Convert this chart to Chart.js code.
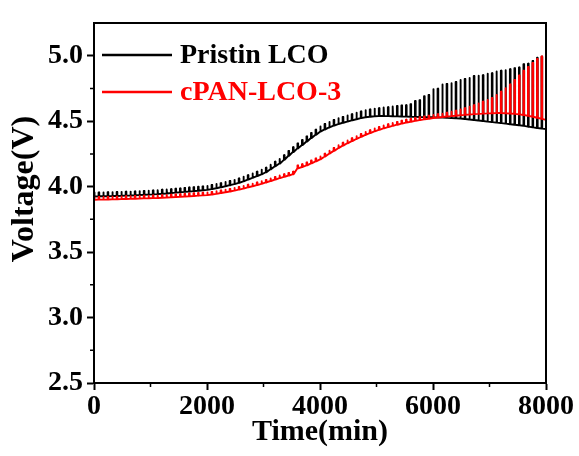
<!DOCTYPE html>
<html><head><meta charset="utf-8">
<script src="https://cdn.jsdelivr.net/npm/chart.js@4.4.0/dist/chart.umd.min.js"></script>
<style>html,body{margin:0;padding:0;background:#fff}canvas{display:block}</style>
</head><body>
<canvas id="c" width="579" height="456"></canvas>
<script>
const seriesNames = ["Pristin LCO", "cPAN-LCO-3"];
const seriesColors = ["#000000", "#ff0000"];
const xTitle = "Time(min)";
const yTitle = "Voltage(V)";
const xTicks = [0, 2000, 4000, 6000, 8000];
const xMinorTicks = [1000, 3000, 5000, 7000];
const yTicks = [2.5, 3.0, 3.5, 4.0, 4.5, 5.0];
const yMinorTicks = [2.75, 3.25, 3.75, 4.25, 4.75];

// start time of each current pulse (min)
const pulseTimes = [0,80,160,240,320,400,480,560,640,720,800,880,960,1040,1120,1200,1280,1360,1440,1520,1600,1680,1760,1840,1920,2000,2080,2160,2240,2320,2400,2480,2560,2640,2720,2800,2880,2960,3040,3120,3200,3280,3360,3440,3520,3600,3680,3760,3840,3920,4000,4080,4160,4240,4320,4400,4480,4560,4640,4720,4800,4880,4960,5040,5120,5200,5280,5360,5440,5520,5600,5680,5760,5840,5920,6000,6080,6160,6240,6320,6400,6480,6560,6640,6720,6800,6880,6960,7040,7120,7200,7280,7360,7440,7520,7600,7680,7760,7840,7920];
const endTime = 8000;

// Pristin LCO: relaxed (low) and pulse peak (high) voltages
const pristinLow = [3.925,3.926,3.926,3.927,3.928,3.929,3.930,3.931,3.932,3.933,3.936,3.938,3.939,3.941,3.943,3.946,3.948,3.951,3.954,3.957,3.960,3.963,3.966,3.969,3.972,3.975,3.981,3.988,3.995,4.003,4.011,4.019,4.029,4.041,4.054,4.067,4.081,4.094,4.110,4.132,4.155,4.176,4.205,4.236,4.265,4.292,4.318,4.345,4.372,4.396,4.420,4.437,4.452,4.466,4.478,4.488,4.497,4.506,4.515,4.523,4.530,4.534,4.538,4.540,4.540,4.539,4.538,4.537,4.536,4.535,4.534,4.533,4.532,4.531,4.530,4.530,4.528,4.527,4.525,4.523,4.522,4.520,4.517,4.513,4.509,4.505,4.501,4.497,4.493,4.489,4.485,4.481,4.477,4.473,4.469,4.464,4.458,4.453,4.448,4.443];
const pristinHigh = [3.955,3.956,3.956,3.957,3.958,3.959,3.960,3.961,3.962,3.963,3.966,3.968,3.969,3.971,3.973,3.976,3.978,3.981,3.984,3.987,3.990,3.993,3.996,3.999,4.002,4.005,4.013,4.020,4.027,4.036,4.044,4.052,4.062,4.075,4.088,4.101,4.115,4.129,4.145,4.167,4.190,4.212,4.241,4.273,4.302,4.330,4.356,4.384,4.411,4.435,4.460,4.478,4.494,4.509,4.522,4.533,4.543,4.553,4.564,4.574,4.584,4.590,4.596,4.600,4.604,4.607,4.612,4.616,4.620,4.622,4.630,4.655,4.660,4.690,4.700,4.745,4.748,4.780,4.785,4.790,4.800,4.815,4.822,4.830,4.845,4.848,4.852,4.862,4.866,4.880,4.886,4.890,4.898,4.905,4.910,4.935,4.940,4.960,4.985,4.992];
const pristinEnd = 4.44;

// cPAN-LCO-3: relaxed (low) and pulse peak (high) voltages
const cpanLow = [3.900,3.901,3.901,3.902,3.903,3.904,3.905,3.906,3.907,3.908,3.909,3.910,3.911,3.912,3.913,3.915,3.917,3.919,3.921,3.923,3.925,3.927,3.929,3.931,3.933,3.935,3.940,3.945,3.951,3.957,3.963,3.970,3.977,3.985,3.994,4.003,4.012,4.021,4.032,4.043,4.054,4.065,4.075,4.085,4.095,4.140,4.150,4.163,4.178,4.193,4.208,4.230,4.252,4.273,4.294,4.313,4.331,4.348,4.364,4.380,4.395,4.409,4.422,4.434,4.445,4.455,4.464,4.473,4.481,4.489,4.496,4.502,4.508,4.514,4.519,4.524,4.528,4.532,4.536,4.539,4.542,4.545,4.548,4.551,4.554,4.556,4.558,4.560,4.561,4.562,4.562,4.561,4.559,4.556,4.552,4.547,4.541,4.534,4.526,4.518];
const cpanHigh = [3.920,3.921,3.921,3.922,3.923,3.924,3.925,3.926,3.927,3.928,3.929,3.930,3.931,3.932,3.933,3.935,3.937,3.939,3.941,3.943,3.945,3.947,3.949,3.951,3.953,3.955,3.960,3.965,3.971,3.977,3.983,3.990,3.997,4.005,4.014,4.023,4.032,4.041,4.052,4.063,4.074,4.085,4.095,4.105,4.115,4.162,4.172,4.185,4.200,4.215,4.230,4.252,4.274,4.295,4.316,4.335,4.353,4.370,4.386,4.402,4.417,4.431,4.444,4.456,4.467,4.477,4.486,4.495,4.503,4.511,4.518,4.524,4.530,4.536,4.541,4.548,4.553,4.558,4.565,4.572,4.580,4.590,4.600,4.610,4.622,4.635,4.648,4.662,4.678,4.700,4.725,4.752,4.780,4.815,4.850,4.885,4.915,4.945,4.975,4.995];
const cpanEnd = 4.51;

// each pulse: jump up, short plateau at peak, drop back to relaxed value
function buildTrace(low, high, endV) {
  const pts = [];
  for (let i = 0; i < pulseTimes.length; i++) {
    const t = pulseTimes[i];
    pts.push({x: t, y: low[i]});
    pts.push({x: t + 1, y: high[i]});
    pts.push({x: t + 12, y: high[i]});
    pts.push({x: t + 13, y: low[i]});
  }
  pts.push({x: endTime, y: endV});
  return pts;
}

const FONT = "'Liberation Serif', 'Times New Roman', serif";

const framePlugin = {
  id: 'frame',
  afterDatasetsDraw(chart) {
    const {ctx, chartArea: a} = chart;
    ctx.save();
    const legendRows = [55, 92];
    chart.data.datasets.forEach((ds, i) => {
      const y = legendRows[i];
      ctx.strokeStyle = ds.borderColor;
      ctx.lineWidth = 2.5;
      ctx.beginPath();
      ctx.moveTo(a.left + 8, y);
      ctx.lineTo(a.left + 78, y);
      ctx.stroke();
      ctx.fillStyle = ds.borderColor;
      ctx.font = "bold 28px " + FONT;
      ctx.textBaseline = 'middle';
      ctx.textAlign = 'left';
      ctx.fillText(ds.label, a.left + 86, y + 1);
    });
    ctx.restore();
  },
  afterDraw(chart) {
    const {ctx, chartArea: a, scales} = chart;
    ctx.save();
    ctx.strokeStyle = '#000';
    ctx.lineWidth = 2;
    ctx.strokeRect(a.left, a.top, a.right - a.left, a.bottom - a.top);
    ctx.lineWidth = 1.5;
    ctx.beginPath();
    xMinorTicks.forEach(v => {
      const px = scales.x.getPixelForValue(v);
      ctx.moveTo(px, a.bottom);
      ctx.lineTo(px, a.bottom + 4);
    });
    yMinorTicks.forEach(v => {
      const py = scales.y.getPixelForValue(v);
      ctx.moveTo(a.left - 4, py);
      ctx.lineTo(a.left, py);
    });
    ctx.stroke();
    ctx.translate(25, 189);
    ctx.rotate(-Math.PI / 2);
    ctx.fillStyle = '#000';
    ctx.font = "bold 32px " + FONT;
    ctx.textAlign = 'center';
    ctx.textBaseline = 'middle';
    ctx.fillText(yTitle, 0, 0);
    ctx.restore();
  }
};

new Chart(document.getElementById('c'), {
  type: 'line',
  data: {
    datasets: [
      {label: seriesNames[0], data: buildTrace(pristinLow, pristinHigh, pristinEnd), borderColor: seriesColors[0], borderWidth: 1.9, borderJoinStyle: 'round', order: 1},
      {label: seriesNames[1], data: buildTrace(cpanLow, cpanHigh, cpanEnd), borderColor: seriesColors[1], borderWidth: 1.9, borderJoinStyle: 'round', order: 0}
    ]
  },
  options: {
    responsive: false,
    animation: false,
    events: [],
    layout: {padding: {left: 0, right: 33, top: 23, bottom: 0}},
    elements: {point: {radius: 0}, line: {tension: 0, fill: false}},
    plugins: {legend: {display: false}, tooltip: {enabled: false}},
    scales: {
      x: {
        type: 'linear', min: 0, max: 8000,
        afterBuildTicks: s => { s.ticks = xTicks.map(v => ({value: v})); },
        afterFit: s => { s.height = 73; },
        ticks: {color: '#000', font: {family: FONT, size: 28, weight: 'bold'}, padding: 0, maxRotation: 0, autoSkip: false, callback: v => String(v)},
        grid: {drawOnChartArea: false, drawTicks: true, tickLength: 7, tickWidth: 2, tickColor: '#000'},
        border: {display: true, color: '#000', width: 2},
        title: {display: true, text: xTitle, color: '#000', font: {family: FONT, size: 30, weight: 'bold'}, padding: {top: 0, bottom: 6}}
      },
      y: {
        type: 'linear', min: 2.5, max: 5.25,
        afterBuildTicks: s => { s.ticks = yTicks.map(v => ({value: v})); },
        afterFit: s => { s.width = 94; },
        ticks: {color: '#000', font: {family: FONT, size: 28, weight: 'bold'}, padding: 4, callback: v => Number(v).toFixed(1)},
        grid: {drawOnChartArea: false, drawTicks: true, tickLength: 7, tickWidth: 2, tickColor: '#000'},
        border: {display: true, color: '#000', width: 2}
      }
    }
  },
  plugins: [framePlugin]
});
</script>
</body></html>
